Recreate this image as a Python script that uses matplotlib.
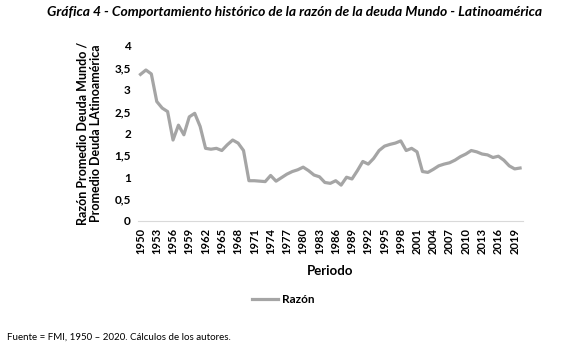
import matplotlib
matplotlib.use('Agg')
import matplotlib.pyplot as plt
import numpy as np

plt.rcParams['font.family'] = ['Lato', 'DejaVu Sans']

years = list(range(1950, 2021))
razon = [3.35, 3.45, 3.36, 2.73, 2.58, 2.50, 1.85, 2.19, 1.97, 2.38,
         2.46, 2.16, 1.66, 1.64, 1.66, 1.61, 1.74, 1.85, 1.78, 1.61,
         0.92, 0.92, 0.91, 0.90, 1.04, 0.91, 0.99, 1.07, 1.13, 1.17,
         1.23, 1.15, 1.05, 1.01, 0.88, 0.86, 0.92, 0.82, 1.00, 0.96,
         1.15, 1.36, 1.30, 1.43, 1.61, 1.71, 1.75, 1.78, 1.83, 1.61,
         1.66, 1.58, 1.13, 1.11, 1.18, 1.26, 1.30, 1.33, 1.39, 1.47,
         1.53, 1.61, 1.58, 1.53, 1.51, 1.45, 1.48, 1.39, 1.26, 1.19,
         1.21]
yticks = [0, 0.5, 1, 1.5, 2, 2.5, 3, 3.5, 4]
ytick_labels = ['0', '0,5', '1', '1,5', '2', '2,5', '3', '3,5', '4']
xticks = list(range(1950, 2021, 3))

fig = plt.figure(figsize=(5.67, 3.48), dpi=100)
ax = fig.add_axes([0.243, 0.365, 0.679, 0.503])

ax.plot(years, razon, color='#A5A5A5', linewidth=2.3, label='Razón')

ax.set_xlim(1949.5, 2020.5)
ax.set_ylim(0, 4)
ax.set_yticks(yticks)
ax.set_yticklabels(ytick_labels, fontweight='bold', fontsize=8.5)
ax.set_xticks(xticks)
ax.set_xticklabels([str(x) for x in xticks], rotation=90, fontweight='bold', fontsize=8)
ax.tick_params(length=0, pad=5)

for s in ['top', 'right', 'left']:
    ax.spines[s].set_visible(False)
ax.spines['bottom'].set_color('#D9D9D9')

ax.set_xlabel('Periodo', fontweight='bold', fontsize=9.5, labelpad=8)
ax.set_ylabel('Razón Promedio Deuda Mundo /\nPromedio Deuda LAtinoamérica', fontweight='bold', fontsize=9, labelpad=9, linespacing=1.1)

fig.text(0.52, 0.965, 'Gráfica 4 - Comportamiento histórico de la razón de la deuda Mundo - Latinoamérica',
         ha='center', va='center', fontsize=10, fontweight='bold', fontstyle='italic')

fig.legend(loc='center', bbox_to_anchor=(0.5, 0.14), frameon=False,
           prop={'weight': 'bold', 'size': 8.5}, handlelength=2.2, handletextpad=0.3)

fig.text(0.012, 0.03, 'Fuente = FMI, 1950 – 2020. Cálculos de los autores.', fontsize=7, ha='left', va='center')

fig.savefig('out.png', dpi=100)
